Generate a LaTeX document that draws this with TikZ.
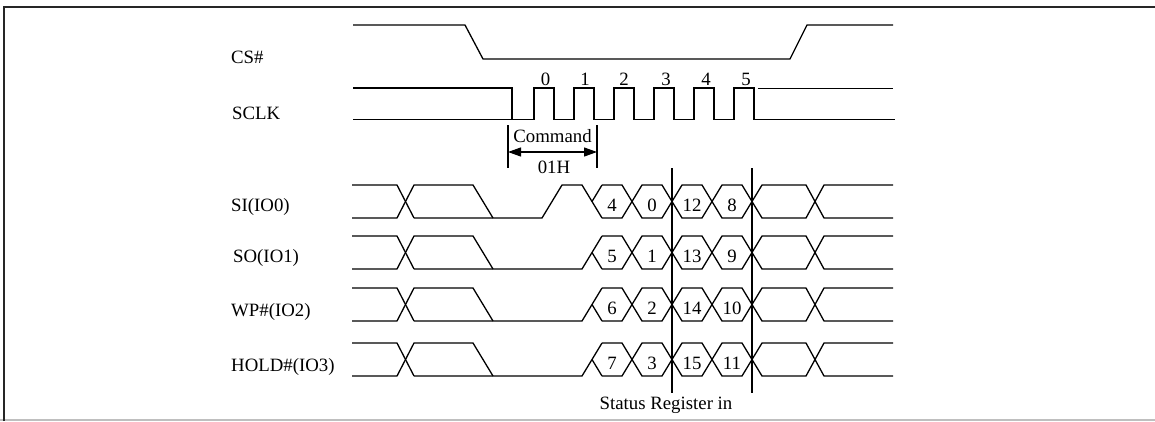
\documentclass[tikz,border=0pt]{standalone}
\usepackage{fontspec}
\setmainfont{Liberation Serif}
\usetikzlibrary{arrows.meta}
\begin{document}
\begin{tikzpicture}[x=1pt,y=-1pt,
  sig/.style={line width=1.3pt,line join=miter,black},
  marker/.style={line width=1.7pt,black},
  frameline/.style={line width=1.8pt,black!85},
  baseline/.style={line width=1.4pt,black!25},
  lbl/.style={inner sep=0pt,font=\fontsize{18.8}{22}\selectfont},
  dimarrow/.style={line width=1.2pt,{Triangle[length=13pt,width=9pt]}-{Triangle[length=13pt,width=9pt]}}]
\useasboundingbox (0,0) rectangle (1155,421);
% frame
\coordinate (fTL) at (4,7);
\coordinate (fTR) at (1155,7);
\coordinate (fBL) at (4,421);
\coordinate (gL) at (0,420);
\coordinate (gR) at (1155,420);
\draw[baseline] (gL) -- (gR);
\draw[frameline] (fBL) -- (fTL) -- (fTR);

% signal labels
\node[lbl,anchor=base west] (lcs)   at (231,63)  {CS\#};
\node[lbl,anchor=base west] (lclk)  at (232,119) {SCLK};
\node[lbl,anchor=base west] (lsi)   at (231,211) {SI(IO0)};
\node[lbl,anchor=base west] (lso)   at (233,262) {SO(IO1)};
\node[lbl,anchor=base west] (lwp)   at (231,316) {WP\#(IO2)};
\node[lbl,anchor=base west] (lhold) at (231,371) {HOLD\#(IO3)};

% CS#
\draw[sig] (353,25) -- (465,25) -- (483,59) -- (790,59) -- (807,25) -- (893,25);

% SCLK
\draw[sig] (353,88) -- (512,88) -- (512,119.5);
\draw[sig] (353,119.5) -- (534,119.5)
  \foreach \k in {0,...,5} { -- ({534+40*\k},88) -- ({554+40*\k},88) -- ({554+40*\k},119.5) -- ({574+40*\k},119.5) }
  -- (895,119.5);
\draw[sig] (758,88.5) -- (893,88.5);
\foreach \x/\d in {545.5/0,585/1,624/2,666/3,706/4,746/5}
  \node[lbl,anchor=base] (clk\d) at (\x,85) {\d};

% Command dimension
\coordinate (cmdLt) at (508,125);
\coordinate (cmdLb) at (508,168);
\coordinate (cmdRt) at (597,125);
\coordinate (cmdRb) at (597,168);
\coordinate (cmdL) at (508,152);
\coordinate (cmdR) at (597,152);
\draw[sig] (cmdLt) -- (cmdLb);
\draw[sig] (cmdRt) -- (cmdRb);
\draw[dimarrow] (cmdL) -- (cmdR);
\node[lbl,anchor=base] (cmdtxt) at (552.5,142.7) {Command};
\node[lbl,anchor=base] (cmdhex) at (554,173) {01H};

% IO rows
\foreach \t/\si in {185/1,236/0,288/0,343/0} {
  \pgfmathsetmacro\bt{\t+33}
  \pgfmathsetmacro\md{\t+16.5}
  % left part with X
  \draw[sig] (352,\t) -- (397,\t) -- (414,\bt);
  \draw[sig] (352,\bt) -- (397,\bt) -- (414,\t) -- (473,\t) -- (493,\bt);
  \ifnum\si=1
    \draw[sig] (414,\bt) -- (542,\bt) -- (562,\t) -- (582,\t) -- (602,\bt);
    \draw[sig] (592,\md) -- (602,\t);
  \else
    \draw[sig] (414,\bt) -- (582,\bt) -- (602,\t);
    \draw[sig] (592,\md) -- (602,\bt);
  \fi
  % data hexagons and right part
  \draw[sig] (602,\t) -- (622,\t) -- (642,\bt) -- (662,\bt) -- (682,\t) -- (702,\t)
     -- (722,\bt) -- (742,\bt) -- (762,\t) -- (806,\t) -- (824,\bt) -- (893,\bt);
  \draw[sig] (602,\bt) -- (622,\bt) -- (642,\t) -- (662,\t) -- (682,\bt) -- (702,\bt)
     -- (722,\t) -- (742,\t) -- (762,\bt) -- (806,\bt) -- (824,\t) -- (893,\t);
}
% data digits
\foreach \t/\a/\b/\c/\d/\r in {185/4/0/12/8/si,236/5/1/13/9/so,288/6/2/14/10/wp,343/7/3/15/11/hold} {
  \node[lbl,anchor=base] (\r a) at (612,\t+26) {\a};
  \node[lbl,anchor=base] (\r b) at (652,\t+26) {\b};
  \node[lbl,anchor=base] (\r c) at (692,\t+26) {\c};
  \node[lbl,anchor=base] (\r d) at (732,\t+26) {\d};
}

% status register markers
\coordinate (sr1t) at (672,168);
\coordinate (sr1b) at (672,393);
\coordinate (sr2t) at (752,168);
\coordinate (sr2b) at (752,393);
\draw[marker] (sr1t) -- (sr1b);
\draw[marker] (sr2t) -- (sr2b);
\node[lbl,anchor=base] (srtxt) at (666,409) {Status Register in};
\end{tikzpicture}
\end{document}
